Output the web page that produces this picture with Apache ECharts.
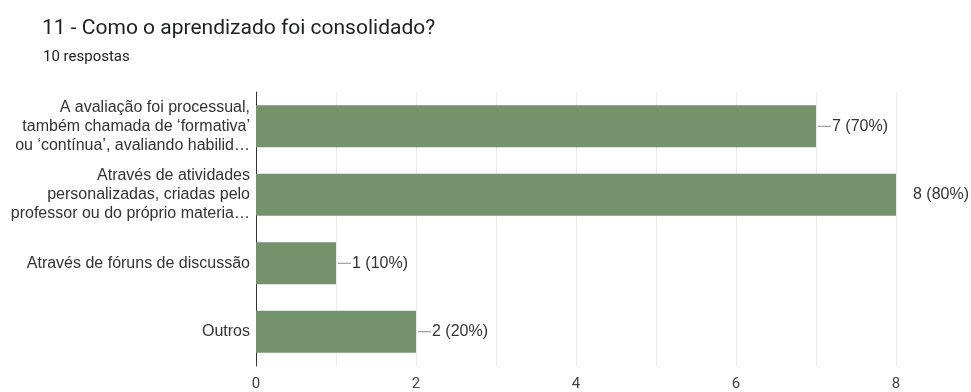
<!DOCTYPE html>
<html>
<head>
<meta charset="utf-8">
<script src="https://cdn.jsdelivr.net/npm/echarts@6/dist/echarts.min.js"></script>
<style>
  html, body { margin: 0; padding: 0; background: #fff; }
  #chart { width: 971px; height: 392px; }
</style>
</head>
<body>
<div id="chart"></div>
<script>
// Answer options (already wrapped / truncated for the axis)
const categories = [
  'A avaliação foi processual,\ntambém chamada de ‘formativa’\nou ‘contínua’, avaliando habilid…',
  'Através de atividades\npersonalizadas, criadas pelo\nprofessor ou do próprio materia…',
  'Através de fóruns de discussão',
  'Outros'
];
// Number of responses per option
const counts = [7, 8, 1, 2];
const totalResponses = 10;
const xTicks = [0, 2, 4, 6, 8];

const chart = echarts.init(document.getElementById('chart'), null, { renderer: 'canvas' });
const maxX = 8;
const pct = v => Math.round(v / totalResponses * 100);

chart.setOption({
  animation: false,
  backgroundColor: '#ffffff',
  title: [
    {
      text: '11 - Como o aprendizado foi consolidado?',
      left: 37, top: 13,
      textStyle: { fontFamily: 'Roboto', fontSize: 21, fontWeight: 'normal', color: '#202124' }
    },
    {
      text: totalResponses + ' respostas',
      left: 38, top: 45,
      textStyle: { fontFamily: 'Roboto', fontSize: 15, fontWeight: 'normal', color: '#202124' }
    }
  ],
  grid: { left: 256, right: 75, top: 92, bottom: 26, containLabel: false },
  xAxis: {
    type: 'value', min: 0, max: maxX, interval: 1,
    axisLine: { show: false },
    axisTick: { show: false },
    axisLabel: {
      fontFamily: 'Roboto', fontSize: 15, color: '#444', margin: 11,
      formatter: v => xTicks.includes(v) ? String(v) : ''
    },
    splitLine: { show: true, lineStyle: { color: '#ebebeb', width: 1 } }
  },
  yAxis: {
    type: 'category', inverse: true, data: categories,
    axisLine: { show: true, lineStyle: { color: '#333', width: 1 } },
    axisTick: { show: false },
    axisLabel: {
      fontFamily: 'Arial, Liberation Sans', fontSize: 16, color: '#333',
      lineHeight: 19, margin: 6, align: 'right'
    }
  },
  series: [{
    type: 'bar',
    data: counts.map(v => ({
      value: v,
      label: {
        show: true, position: 'right', distance: v >= maxX ? 16 : 2,
        formatter: v >= maxX
          ? '{t|' + v + ' (' + pct(v) + '%)}'
          : '{l|}{t|' + v + ' (' + pct(v) + '%)}',
        rich: {
          l: { width: 13, height: 1, backgroundColor: '#888', verticalAlign: 'middle' },
          t: { fontFamily: 'Arial, Liberation Sans', fontSize: 16, color: '#333', padding: [0, 0, 0, 1] }
        }
      }
    })),
    barWidth: 42,
    itemStyle: { color: '#74926b' }
  }]
});
</script>
</body>
</html>
